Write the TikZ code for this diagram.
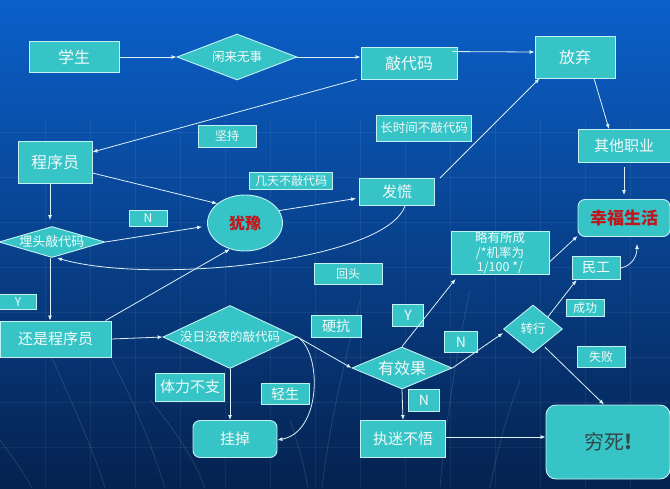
\documentclass[tikz,border=0pt]{standalone}
\usepackage{fontspec}
\setmainfont{Noto Sans CJK SC}
\usetikzlibrary{shapes.geometric,arrows.meta,calc}
\definecolor{bgtop}{HTML}{0B60CA}
\definecolor{bgmid}{HTML}{0946A4}
\definecolor{bgbot}{HTML}{05224F}
\definecolor{boxfill}{HTML}{36C4C7}
\definecolor{boxline}{HTML}{C4F2F4}
\definecolor{txt}{HTML}{F2FAFA}
\definecolor{arrowc}{HTML}{DCF2F6}
\definecolor{redtxt}{HTML}{C0161C}
\definecolor{darktxt}{HTML}{34474A}
\newcommand\fsz[1]{\fontsize{#1}{#1}\selectfont}
\tikzset{
  box/.style={draw=boxline, line width=0.9pt, fill=boxfill, text=txt, inner sep=0pt, align=center},
  rbox/.style={box, rounded corners=7pt},
  dia/.style={diamond, draw=boxline, line width=0.9pt, fill=boxfill, inner sep=0pt, label={[text=txt]center:#1}},
  lbl/.style={draw=boxline, line width=0.7pt, fill=boxfill, text=txt, inner sep=0pt, font=\fsz{12}},
  arr/.style={draw=arrowc, line width=0.8pt, -{Latex[length=5pt,width=4pt]}},
  bgline/.style={draw=white, opacity=0.12, line width=0.8pt},
  bggrid/.style={draw=white, opacity=0.06, line width=0.5pt}
}
\begin{document}
\begin{tikzpicture}[x=1pt,y=-1pt]
\useasboundingbox (0,0) rectangle (670,488);
\shade[top color=bgtop, middle color=bgmid, bottom color=bgbot] (0,0) rectangle (670,488);
% background grid and curves
\foreach \gx in {45,90,...,660} {\draw[bggrid] (\gx,120) -- (\gx,488);}
\foreach \gy in {132,177,...,488} {\draw[bggrid] (0,\gy) -- (670,\gy);}
\draw[bgline] (40,330) .. controls (70,400) and (90,440) .. (105,488);
\draw[bgline] (95,330) .. controls (130,390) and (150,440) .. (165,488);
\draw[bgline] (150,400) .. controls (175,430) and (195,460) .. (205,488);
\draw[bgline] (290,420) .. controls (300,450) and (305,470) .. (308,488);
\draw[bgline] (360,300) .. controls (345,360) and (330,420) .. (322,488);
\draw[bgline] (470,290) .. controls (455,360) and (445,430) .. (440,488);
\draw[bgline] (520,380) .. controls (505,420) and (495,460) .. (490,488);
\draw[bgline] (0,440) .. controls (15,460) and (25,475) .. (32,488);

% main nodes
\node[box, minimum width=90pt, minimum height=31pt, font=\fsz{16}] (xs) at (74,57) {学生};
\node[dia={\fsz{12.5}闲来无事}, minimum width=120pt, minimum height=46pt] (xl) at (237,57) {};
\node[box, minimum width=96pt, minimum height=32pt, font=\fsz{16}] (qd) at (409,63) {敲代码};
\node[box, minimum width=80pt, minimum height=42pt, font=\fsz{16}] (fq) at (575,57) {放弃};
\node[box, minimum width=92pt, minimum height=33pt, font=\fsz{15}] (qt) at (624,146) {其他职业};
\node[rbox, minimum width=92pt, minimum height=37pt, font=\fsz{17}\bfseries, text=redtxt] (xf) at (624,218) {幸福生活};
\node[box, minimum width=74pt, minimum height=42pt, font=\fsz{16}] (cx) at (55,162) {程序员};
\node[ellipse, draw=boxline, line width=0.9pt, fill=boxfill, inner sep=0pt, minimum width=75pt, minimum height=56pt, font=\fsz{16}\bfseries, text=redtxt] (yy) at (245,223) {犹豫};
\node[box, minimum width=75pt, minimum height=27pt, font=\fsz{15}] (fh) at (397,192) {发慌};
\node[dia={\fsz{13}埋头敲代码}, minimum width=106pt, minimum height=31pt] (mt) at (52,242) {};
\node[box, minimum width=98pt, minimum height=43pt, font={\fontsize{12.5}{14.5}\selectfont}] (lc) at (500,253) {略有所成\\/*机率为\\1/100 */};
\node[box, minimum width=48pt, minimum height=23pt, font=\fsz{14}] (mg) at (596,268) {民工};
\node[box, minimum width=111pt, minimum height=36pt, font=\fsz{15}] (hs) at (55.5,339) {还是程序员};
\node[dia={\fsz{12.5}没日没夜的敲代码}, minimum width=134pt, minimum height=63pt] (mr) at (230,337) {};
\node[rbox, minimum width=84pt, minimum height=37pt, font=\fsz{15}] (gd) at (235,439) {挂掉};
\node[dia={\fsz{16}有效果}, minimum width=100pt, minimum height=42pt] (yx) at (402,368) {};
\node[dia={\fsz{12.5}转行}, minimum width=59pt, minimum height=48pt] (zx) at (533,329) {};
\node[box, minimum width=85pt, minimum height=37pt, font=\fsz{15}] (zm) at (403,439) {执迷不悟};
\node[rbox, rounded corners=10pt, minimum width=124pt, minimum height=74pt, font=\fsz{20}, text=darktxt] (qs) at (608,442) {穷死\textbf{!}};

% label boxes
\node[lbl, minimum width=58pt, minimum height=22pt] (l1) at (227,136) {坚持};
\node[lbl, minimum width=95pt, minimum height=26pt, font=\fsz{12.5}] (l2) at (424,128) {长时间不敲代码};
\node[lbl, minimum width=83pt, minimum height=17pt] (l3) at (291,181) {几天不敲代码};
\node[lbl, minimum width=38pt, minimum height=16pt] (l4) at (148,218) {N};
\node[lbl, minimum width=68pt, minimum height=21pt] (l5) at (348,274) {回头};
\node[lbl, minimum width=37pt, minimum height=15pt] (l6) at (18,302) {Y};
\node[lbl, minimum width=50pt, minimum height=22pt, font=\fsz{14}] (l7) at (336,326) {硬抗};
\node[lbl, minimum width=31pt, minimum height=22pt, font=\fsz{14}] (l8) at (408,315) {Y};
\node[lbl, minimum width=33pt, minimum height=21pt, font=\fsz{14}] (l9) at (461,342) {N};
\node[lbl, minimum width=38pt, minimum height=17pt] (l10) at (585,308) {成功};
\node[lbl, minimum width=48pt, minimum height=21pt] (l11) at (601,357) {失败};
\node[lbl, minimum width=31pt, minimum height=22pt, font=\fsz{14}] (l12) at (424,400) {N};
\node[lbl, minimum width=69pt, minimum height=28pt, font=\fsz{15}] (l13) at (190,387) {体力不支};
\node[lbl, minimum width=48pt, minimum height=21pt, font=\fsz{14}] (l14) at (285,394) {轻生};

% connectors
\draw[arr] (xs.east) -- (xl.west);
\draw[arr] (xl.east) -- ($(qd.west)+(0,-6)$);
\draw[arr] ($(qd.north east)+(-5,5)$) -- ($(fq.west)+(0,-5)$);
\draw[arr] ($(qd.south west)+(-4,0)$) -- ($(cx.east)+(0,-10)$);
\draw[arr] ($(fq.south)+(19,0)$) -- ($(qt.north)+(-15,0)$);
\draw[arr, shorten <=4pt, shorten >=4pt] (qt.south) -- (xf.north);
\draw[arr] ($(cx.east)+(0,11)$) -- (yy.145);
\draw[arr, shorten >=6pt] ($(cx.south)+(-5,0)$) -- ($(mt.north)+(-2,0)$);
\draw[arr, shorten >=5pt] (mt.east) -- ($(yy.west)+(0,3)$);
\draw[arr, shorten >=3pt] (yy.20) -- ($(fh.west)+(0,6)$);
\draw[arr] ($(fh.north east)+(5,0)$) -- ($(fq.south west)+(5,0)$);
\draw[arr] ($(fh.south)+(8,0)$) .. controls (385,262) and (150,285) .. ($(mt.south)+(5,0)$);
\draw[arr] ($(mt.south)+(-2,0)$) -- ($(hs.north)+(-5.5,0)$);
\draw[arr] ($(hs.north east)+(-6,0)$) -- (yy.240);
\draw[arr] (hs.east) -- (mr.west);
\draw[arr] (mr.south) -- ($(gd.north)+(-5,0)$);
\draw[arr] (mr.east) .. controls (322,352) and (322,432) .. ($(gd.east)+(0,1)$);
\draw[arr] (mr.east) -- (yx.west);
\draw[arr] (yx.north) -- ($(lc.south west)+(5,4)$);
\draw[arr] (yx.east) -- ($(zx.west)+(0,4)$);
\draw[arr] (yx.south) -- ($(zm.north)+(0,0)$);
\draw[arr] ($(zm.east)+(0,-2)$) -- ($(qs.west)+(0,-5)$);
\draw[arr] (zx.north east) -- ($(mg.south west)+(5,0)$);
\draw[arr] ($(zx.south east)+(-3,6)$) -- ($(qs.north)+(-4,0)$);
\draw[arr] ($(lc.east)+(0,9)$) -- ($(xf.south west)+(0,-1)$);
\draw[arr] (mg.east) .. controls (632,266) and (637,256) .. ($(xf.south)+(13,7)$);
\end{tikzpicture}
\end{document}
